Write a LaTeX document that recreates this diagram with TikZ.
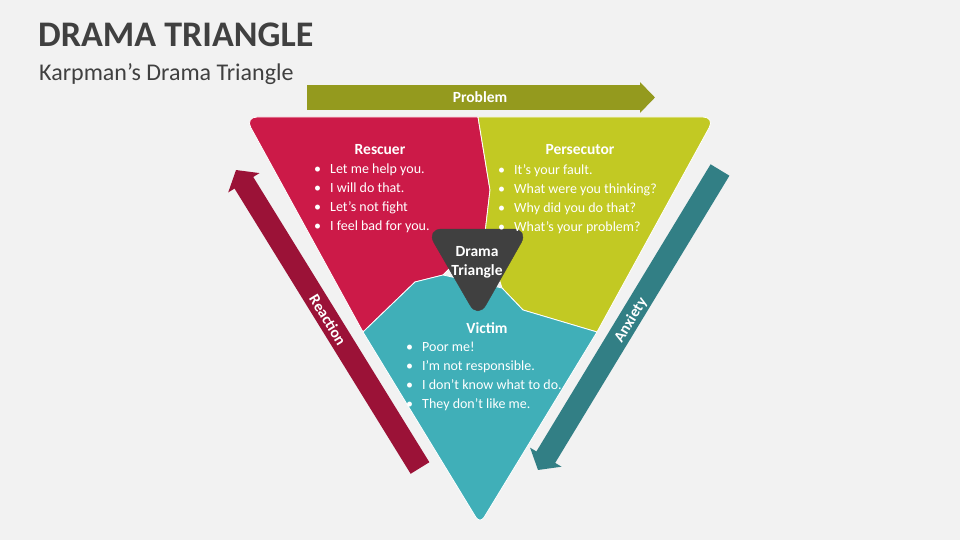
\documentclass[tikz,border=0pt]{standalone}
\usepackage{fontspec}
\setmainfont{Carlito}
\usetikzlibrary{arrows.meta}
\definecolor{bgc}{HTML}{F2F2F2}
\definecolor{darkc}{HTML}{404040}
\definecolor{rescuerc}{HTML}{CC1A48}
\definecolor{persecc}{HTML}{C2C923}
\definecolor{victimc}{HTML}{40AFB8}
\definecolor{problemc}{HTML}{949A1E}
\definecolor{reactc}{HTML}{9B1237}
\definecolor{anxc}{HTML}{327F85}
\newcommand{\bl}[1]{\makebox[16pt][l]{\textbullet}#1\\}
\tikzset{
  part/.style={draw=white, line width=0.8pt, line join=round},
  head/.style={text=white, font=\fontsize{15.5}{17}\selectfont\bfseries},
  items/.style={text=white, font=\fontsize{14}{19}\selectfont, align=left, anchor=north west, inner sep=0pt},
  flow/.style={line width=22pt, -{Triangle[width=36pt,length=15pt]}},
  flowtext/.style={text=white, font=\fontsize{15.5}{17}\selectfont\bfseries}
}
\begin{document}
\begin{tikzpicture}[x=1pt,y=-1pt]
  \fill[bgc] (0,0) rectangle (960,540);
  \useasboundingbox (0,0) rectangle (960,540);

  \node[anchor=west, text=darkc, font=\fontsize{36}{40}\selectfont\bfseries, inner sep=0pt] (title) at (38,35) {DRAMA TRIANGLE};
  \node[anchor=west, text=darkc, font=\fontsize{24}{28}\selectfont, inner sep=0pt] (subtitle) at (39,74) {Karpman’s Drama Triangle};

  % arrows round the triangle
  \draw[flow, problemc, -{Triangle[width=30pt,length=15pt]}, line width=25pt] (307,97.5) -- (655,97.5);
  \node[flowtext] (problem) at (480,97.5) {Problem};
  \draw[flow, reactc] (420,468) -- (236,170);
  \node[flowtext, rotate=-58.5] (reaction) at (328,320) {Reaction};
  \draw[flow, anxc] (720,170) -- (538,470);
  \node[flowtext, rotate=58.5] (anxiety) at (631,320) {Anxiety};

  % the three parts
  \filldraw[part, fill=rescuerc, rounded corners=12pt] (245,117) [sharp corners] -- (478,117) -- (490,190) -- (485,233) -- (443,275) -- (415,282) -- (363,332) [rounded corners=12pt] -- cycle;
  \filldraw[part, fill=persecc, rounded corners=12pt] (478,117) -- (715,117) [sharp corners] -- (597,332) -- (523,310) -- (502,288) -- (485,233) -- (490,190) -- cycle;
  \filldraw[part, fill=victimc] (363,332) -- (415,282) -- (443,275) -- (502,288) -- (523,310) -- (597,332) [rounded corners=8pt] -- (480,524) [sharp corners] -- cycle;
  \filldraw[darkc, rounded corners=16pt] (426,229) -- (529,229) -- (478,319) -- cycle;
  \node[text=white, font=\fontsize{15.5}{19}\selectfont\bfseries, align=center] (drama) at (477,262) {Drama\\Triangle};

  % texts
  \node[head] (rescuer) at (380,150) {Rescuer};
  \node[items] (rescuerlist) at (314,164) {\bl{Let me help you.}\bl{I will do that.}\bl{Let’s not fight}\bl{I feel bad for you.}};
  \node[head] (persecutor) at (580,150) {Persecutor};
  \node[items] (persecutorlist) at (498,164) {\bl{It’s your fault.}\bl{What were you thinking?}\bl{Why did you do that?}\bl{What’s your problem?}};
  \node[head] (victim) at (487,328) {Victim};
  \node[items] (victimlist) at (406,342) {\bl{Poor me!}\bl{I’m not responsible.}\bl{I don’t know what to do.}\bl{They don’t like me.}};
\end{tikzpicture}
\end{document}
